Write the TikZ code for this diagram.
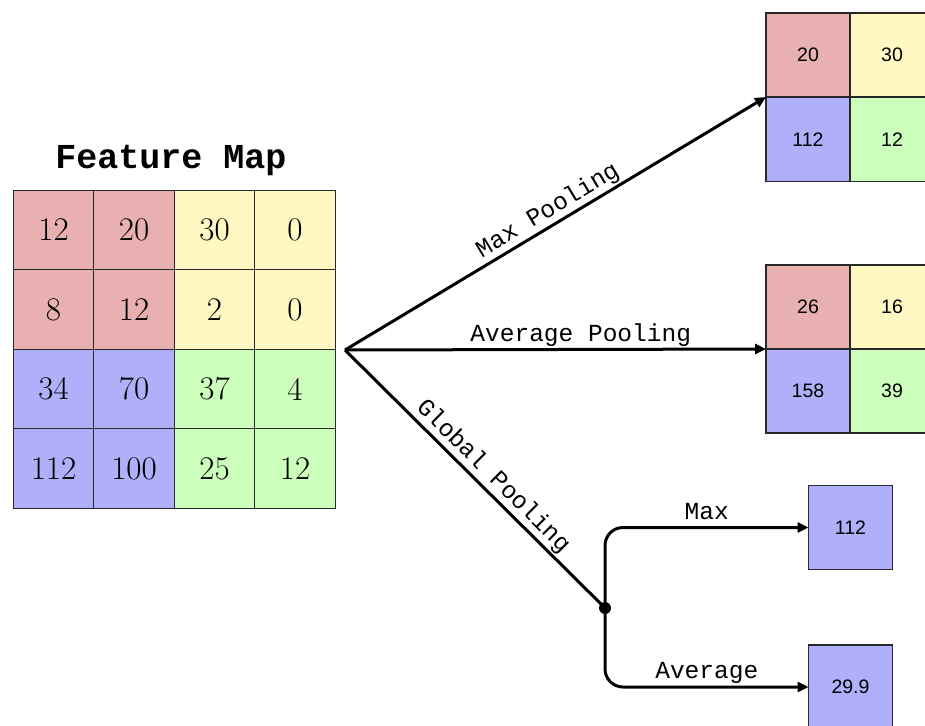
\documentclass[tikz,border=0pt]{standalone}
\usepackage{fontspec}
\newfontfamily\labelfont{Liberation Mono}
\newfontfamily\valfont{Liberation Sans}
\usetikzlibrary{arrows.meta}
\definecolor{cred}{RGB}{232,176,176}
\definecolor{cyel}{RGB}{255,248,194}
\definecolor{cblu}{RGB}{176,176,250}
\definecolor{cgrn}{RGB}{204,255,187}
\definecolor{edge}{RGB}{40,40,40}
\begin{document}
\begin{tikzpicture}[x=1pt,y=-1pt,
  fmcell/.style={draw=edge, line width=1.4pt, minimum width=80.5pt, minimum height=79.5pt,
    inner sep=0pt, outer sep=0pt, font=\fontsize{33}{33}\selectfont},
  poolcell/.style={draw=edge, line width=1.3pt, minimum width=84pt, minimum height=84pt,
    inner sep=0pt, outer sep=0pt, font=\valfont\fontsize{19.5}{19.5}\selectfont},
  flow/.style={line width=3pt, -{Triangle[length=11pt,width=10pt]}},
  lbl/.style={font=\labelfont\fontsize{24.5}{24.5}\selectfont, inner sep=4.5pt,
    text height=0.62em, text depth=0.22em}
]
\clip (0,0) rectangle (925,725);
\fill[white] (0,0) rectangle (925,725);

% title
\node[font=\labelfont\bfseries\fontsize{35}{35}\selectfont] (title) at (171,160) {Feature Map};

% 4x4 feature map
\node[fmcell, fill=cred] (f11) at (53.5,230) {12};
\node[fmcell, fill=cred] (f12) at (134,230) {20};
\node[fmcell, fill=cyel] (f13) at (214.5,230) {30};
\node[fmcell, fill=cyel] (f14) at (295,230) {0};
\node[fmcell, fill=cred] (f21) at (53.5,309.5) {8};
\node[fmcell, fill=cred] (f22) at (134,309.5) {12};
\node[fmcell, fill=cyel] (f23) at (214.5,309.5) {2};
\node[fmcell, fill=cyel] (f24) at (295,309.5) {0};
\node[fmcell, fill=cblu] (f31) at (53.5,389) {34};
\node[fmcell, fill=cblu] (f32) at (134,389) {70};
\node[fmcell, fill=cgrn] (f33) at (214.5,389) {37};
\node[fmcell, fill=cgrn] (f34) at (295,389) {4};
\node[fmcell, fill=cblu] (f41) at (53.5,468.5) {112};
\node[fmcell, fill=cblu] (f42) at (134,468.5) {100};
\node[fmcell, fill=cgrn] (f43) at (214.5,468.5) {25};
\node[fmcell, fill=cgrn] (f44) at (295,468.5) {12};

% max pooling result
\node[poolcell, fill=cred] (m11) at (808,55) {20};
\node[poolcell, fill=cyel] (m12) at (892,55) {30};
\node[poolcell, fill=cblu] (m21) at (808,139.5) {112};
\node[poolcell, fill=cgrn] (m22) at (892,139.5) {12};

% average pooling result
\node[poolcell, fill=cred] (a11) at (808,307) {26};
\node[poolcell, fill=cyel] (a12) at (892,307) {16};
\node[poolcell, fill=cblu] (a21) at (808,391) {158};
\node[poolcell, fill=cgrn] (a22) at (892,391) {39};

% global pooling results
\node[poolcell, fill=cblu] (g1) at (850.5,527.5) {112};
\node[poolcell, fill=cblu] (g2) at (850.5,687) {29.9};

% branching point and junction
\coordinate (src) at (345,350);
\node[circle, fill=black, inner sep=0pt, minimum size=12pt] (dot) at (605,608) {};

% connectors
\draw[flow] (src) -- node[lbl, sloped, above, pos=0.5] {Max Pooling} (m11.south west);
\draw[flow] (src) -- node[lbl, above, pos=0.56] {Average Pooling} (a11.south west);
\draw[line width=3pt] (src) -- node[lbl, sloped, above, pos=0.53] {Global Pooling} (dot.center);
\draw[flow, rounded corners=18pt] (dot.center) |- node[lbl, above, pos=0.75] {Max} (g1.west);
\draw[flow, rounded corners=18pt] (dot.center) |- node[lbl, above, pos=0.75] {Average} (g2.west);
\end{tikzpicture}
\end{document}
